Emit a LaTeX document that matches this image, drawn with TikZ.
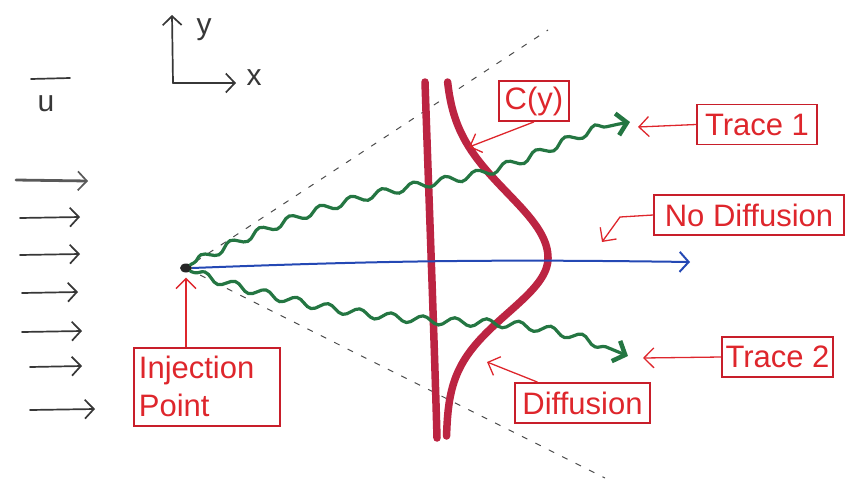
\documentclass[tikz,border=0pt]{standalone}
\usepackage{fontspec}
\setmainfont{Liberation Sans}
\usetikzlibrary{arrows.meta,decorations.pathmorphing,shapes.geometric}
\definecolor{lblred}{RGB}{222,38,44}
\definecolor{boxred}{RGB}{200,30,42}
\definecolor{curvered}{RGB}{188,36,66}
\definecolor{tracegreen}{RGB}{36,118,66}
\definecolor{flowblue}{RGB}{36,72,180}
\definecolor{ink}{RGB}{55,55,55}
\begin{document}
\begin{tikzpicture}[x=1pt,y=-1pt,
  lbl/.style={draw=boxred, text=lblred, line width=1.8pt, font=\fontsize{31}{38}\selectfont, inner sep=0pt, minimum height=40pt},
  lblarrow/.style={draw=lblred, line width=1.3pt, -{Straight Barb[length=10pt,width=20pt,line width=1.3pt]}},
  flow/.style={draw=ink, line width=1.7pt, line cap=round, -{Straight Barb[length=9pt,width=19pt,line width=1.7pt]}},
  handtext/.style={text=ink, font=\fontsize{30}{30}\selectfont, inner sep=0pt},
  dashline/.style={draw=black!70, dash pattern=on 6pt off 9pt, line width=1pt},
  cline/.style={draw=curvered, line width=7.5pt, line cap=round},
  trace/.style={draw=tracegreen, line width=3.2pt, line cap=round, decorate,
    decoration={snake, amplitude=4pt, segment length=32pt, post length=12pt, pre length=4pt},
    -{Straight Barb[length=10pt,width=22pt,line width=4.5pt]}},
  blueline/.style={draw=flowblue, line width=2pt, -{Straight Barb[length=9pt,width=20pt,line width=2pt]}}
]
\useasboundingbox (0,0) rectangle (846,483);

% axes
\coordinate (origin) at (173,83);
\coordinate (ytip) at (172,15);
\coordinate (xtip) at (236,83);
\draw[flow] (origin) -- (ytip);
\draw[flow] (origin) -- (xtip);
\node[handtext] (ylab) at (204,30) {y};
\node[handtext] (xlab) at (254,78) {x};

% mean velocity
\node[handtext] (ulab) at (46,104) {u};
\draw[ink, line width=1.7pt, line cap=round] (31,79) -- (70,78);
\draw[flow, draw=black!65, line width=2.8pt] (16,180) -- (88,181);
\foreach \xa/\xb/\yy in {20/80/218, 20/80/255, 22/78/293, 22/82/332, 30/82/367, 30/95/410}
  \draw[flow] (\xa,\yy) -- (\xb,\yy-1);

% injection point
\node[ellipse, fill=black!85, minimum width=12pt, minimum height=9pt, inner sep=0pt] (injpt) at (186,268) {};

% spreading cone
\coordinate (dashtop) at (548,30);
\coordinate (dashbot) at (605,478);
\draw[dashline, shorten <=6pt] (injpt) -- (dashtop);
\draw[dashline, shorten <=10pt] (injpt) -- (dashbot);

% concentration profiles
\draw[cline] (425,82) .. controls (429,200) and (434,330) .. (437,438);
\draw[cline, domain=82:258, samples=60, smooth, variable=\t]
  plot ({445+103*exp(-0.5*((\t-258)/65)*((\t-258)/65))}, \t);
\draw[cline, domain=258:436, samples=60, smooth, variable=\t]
  plot ({446+102*exp(-0.5*((\t-258)/55)*((\t-258)/55))}, \t);

% no diffusion
\coordinate (blueend) at (690,262);
\draw[blueline] (injpt.east) to[bend left=1.5] (blueend);

% traces
\coordinate (t1end) at (630,122);
\coordinate (t2end) at (628,356);
\draw[trace] (injpt.north east) .. controls (300,208) and (380,194) .. (450,182)
  .. controls (530,168) and (565,132) .. (t1end);
\draw[trace] (injpt.south east) .. controls (290,305) and (380,318) .. (470,320)
  .. controls (545,322) and (585,338) .. (t2end);

% labels
\node[lbl, minimum width=70pt] (cy) at (534,101) {C(y)};
\node[lbl, minimum width=120pt] (trace1) at (757,124.5) {Trace 1};
\node[lbl, minimum width=190pt] (nodiff) at (749,215) {No Diffusion};
\node[lbl, minimum width=111pt] (trace2) at (777.5,357) {Trace 2};
\node[lbl, minimum width=135pt] (diff) at (582.5,403) {Diffusion};
\node[lbl, minimum height=78pt, inner xsep=5pt, text width=136pt, align=left, anchor=north west] (inj) at (133,347) {Injection\\Point};

% label arrows
\coordinate (cytip) at (469,147);
\coordinate (t1tip) at (638,127);
\coordinate (ndbend) at (620,217);
\coordinate (ndtip) at (602,242);
\coordinate (t2tip) at (643,358);
\coordinate (difftip) at (487,362);
\draw[lblarrow] (cy.south) -- (cytip);
\draw[lblarrow] (trace1.west) -- (t1tip);
\draw[lblarrow] (nodiff.west) -- (ndbend) -- (ndtip);
\draw[lblarrow] (trace2.west) -- (t2tip);
\draw[lblarrow] ([xshift=-45pt]diff.north) -- (difftip);
\draw[lblarrow, shorten >=5pt] (inj.north -| injpt) -- (injpt.south);
\end{tikzpicture}
\end{document}
